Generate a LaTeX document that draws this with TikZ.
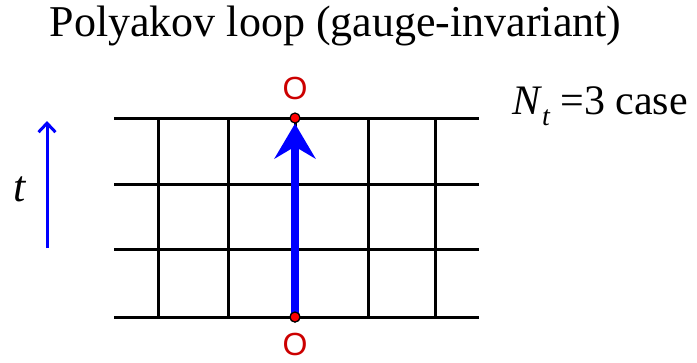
\documentclass[tikz,border=0pt]{standalone}
\usepackage{fontspec}
\setmainfont{Liberation Serif}
\newfontfamily\oserif{Liberation Serif}
\newfontfamily\osans{Liberation Sans}
\usetikzlibrary{arrows.meta,positioning}

\begin{document}
\begin{tikzpicture}[x=1pt,y=-1pt,
  node distance=12pt,
  link/.style={line width=3pt},
  loopline/.style={line width=8pt,blue,
    -{Stealth[length=35pt,width=41pt,inset=12pt]}},
  site/.style={circle,draw=black,fill=red,line width=1.2pt,
    inner sep=0pt,minimum size=10pt},
  olabel/.style={inner sep=0pt,text=red!80!black,font=\osans\fontsize{32}{32}\selectfont}
]
  \useasboundingbox (0,0) rectangle (697,362);
  % lattice
  \foreach \y in {118,184,249,317}
    \draw[link] (114,\y) -- (479,\y);
  \foreach \x in {158,228,295,368,435}
    \draw[link] (\x,118) -- (\x,317);
  % sites and loop
  \node[site] (top) at (295,118) {};
  \node[site] (bot) at (295,317) {};
  \draw[loopline] (bot.center) -- (top);
  \node[site] at (bot) {};
  \node[olabel,above=12pt of top] (otop) {O};
  \node[olabel,below=10pt of bot] (obot) {O};
  % time direction
  \coordinate (tlow) at (47,248);
  \coordinate (thigh) at (47,121);
  \draw[line width=3pt,blue,-{Straight Barb[length=9pt,width=17pt]}] (tlow) -- (thigh);
  \node[font=\oserif\fontsize{44}{44}\selectfont\itshape] (tlabel) at (20,189) {t};
  % texts
  \node[anchor=base,font=\oserif\fontsize{44}{44}\selectfont] (title) at (335.5,36)
    {Polyakov loop (gauge-invariant)};
  \node[anchor=base west,inner sep=0pt,font=\oserif\fontsize{42}{42}\selectfont] (ntcase) at (512,114)
    {\textit{N}\raisebox{-11pt}{\fontsize{28}{28}\selectfont\itshape t} =3 case};
\end{tikzpicture}
\end{document}
